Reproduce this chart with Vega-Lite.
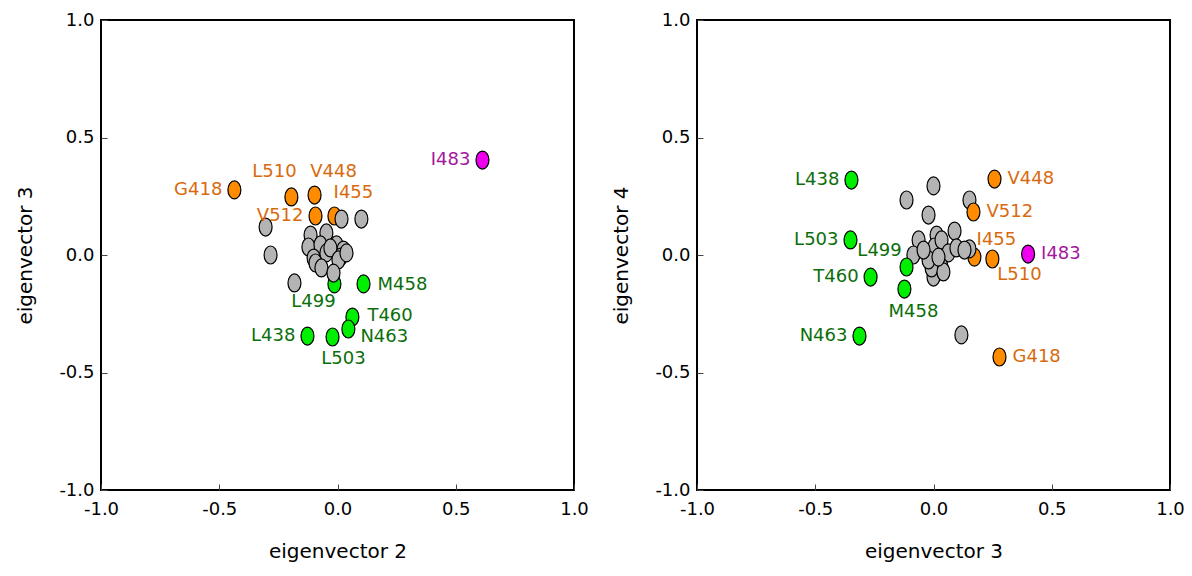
{
  "$schema": "https://vega.github.io/schema/vega-lite/v6.json",
  "background": "white",
  "padding": {"left": 14, "top": 10, "right": 5, "bottom": 5},
  "spacing": 20,
  "config": {
    "font": "DejaVu Sans",
    "view": {"stroke": "black", "strokeWidth": 2},
    "axis": {
      "domain": false, "grid": false, "tickSize": -6, "tickColor": "#444", "tickWidth": 1,
      "labelFontSize": 18, "labelColor": "black", "titleFontSize": 20, "titleFontWeight": "normal", "titleColor": "black",
      "labelFlush": false, "labelOverlap": false
    },
    "axisX": {"labelPadding": 16, "titlePadding": 23},
    "axisY": {"labelPadding": 13, "titlePadding": 23},
    "text": {"fontSize": 18}
  },
  "datasets": {
    "left": [
      {"res": "I483", "group": "magenta", "x": 0.613, "y": 0.404, "side": "left"},
      {"res": "G418", "group": "orange", "x": -0.436, "y": 0.277, "side": "left"},
      {"res": "L510", "group": "orange", "x": -0.195, "y": 0.247, "side": "above-left"},
      {"res": "V448", "group": "orange", "x": -0.097, "y": 0.255, "side": "above-right"},
      {"res": "V512", "group": "orange", "x": -0.093, "y": 0.166, "side": "left"},
      {"res": "I455", "group": "orange", "x": -0.013, "y": 0.166, "side": "above-right"},
      {"res": "M458", "group": "green", "x": 0.11, "y": -0.123, "side": "right"},
      {"res": "L499", "group": "green", "x": -0.013, "y": -0.123, "side": "below-left"},
      {"res": "T460", "group": "green", "x": 0.063, "y": -0.264, "side": "right-up"},
      {"res": "N463", "group": "green", "x": 0.046, "y": -0.315, "side": "right-down"},
      {"res": "L438", "group": "green", "x": -0.127, "y": -0.345, "side": "left"},
      {"res": "L503", "group": "green", "x": -0.021, "y": -0.349, "side": "below-right"},
      {"res": "", "group": "gray", "x": -0.304, "y": 0.119, "side": "none"},
      {"res": "", "group": "gray", "x": -0.283, "y": 0.0, "side": "none"},
      {"res": "", "group": "gray", "x": -0.182, "y": -0.119, "side": "none"},
      {"res": "", "group": "gray", "x": 0.017, "y": 0.153, "side": "none"},
      {"res": "", "group": "gray", "x": 0.101, "y": 0.153, "side": "none"},
      {"res": "", "group": "gray", "x": -0.114, "y": 0.085, "side": "none"},
      {"res": "", "group": "gray", "x": -0.123, "y": 0.034, "side": "none"},
      {"res": "", "group": "gray", "x": -0.047, "y": 0.094, "side": "none"},
      {"res": "", "group": "gray", "x": -0.072, "y": 0.043, "side": "none"},
      {"res": "", "group": "gray", "x": -0.004, "y": 0.043, "side": "none"},
      {"res": "", "group": "gray", "x": 0.025, "y": 0.021, "side": "none"},
      {"res": "", "group": "gray", "x": -0.101, "y": -0.013, "side": "none"},
      {"res": "", "group": "gray", "x": -0.047, "y": 0.009, "side": "none"},
      {"res": "", "group": "gray", "x": 0.013, "y": -0.009, "side": "none"},
      {"res": "", "group": "gray", "x": -0.03, "y": 0.03, "side": "none"},
      {"res": "", "group": "gray", "x": 0.004, "y": -0.021, "side": "none"},
      {"res": "", "group": "gray", "x": -0.093, "y": -0.034, "side": "none"},
      {"res": "", "group": "gray", "x": 0.038, "y": 0.009, "side": "none"},
      {"res": "", "group": "gray", "x": -0.068, "y": -0.055, "side": "none"},
      {"res": "", "group": "gray", "x": -0.017, "y": -0.077, "side": "none"}
    ],
    "right": [
      {"res": "I455", "group": "orange", "x": 0.173, "y": -0.009, "side": "above-right"},
      {"res": "", "group": "gray", "x": 0.118, "y": -0.34, "side": "none"},
      {"res": "", "group": "gray", "x": 0.152, "y": 0.234, "side": "none"},
      {"res": "", "group": "gray", "x": 0.152, "y": 0.026, "side": "none"},
      {"res": "", "group": "gray", "x": 0.0, "y": 0.294, "side": "none"},
      {"res": "", "group": "gray", "x": -0.114, "y": 0.234, "side": "none"},
      {"res": "", "group": "gray", "x": -0.021, "y": 0.17, "side": "none"},
      {"res": "", "group": "gray", "x": 0.089, "y": 0.102, "side": "none"},
      {"res": "", "group": "gray", "x": -0.063, "y": 0.064, "side": "none"},
      {"res": "", "group": "gray", "x": -0.085, "y": 0.0, "side": "none"},
      {"res": "", "group": "gray", "x": 0.013, "y": 0.085, "side": "none"},
      {"res": "", "group": "gray", "x": 0.004, "y": 0.034, "side": "none"},
      {"res": "", "group": "gray", "x": 0.034, "y": 0.064, "side": "none"},
      {"res": "", "group": "gray", "x": 0.063, "y": 0.009, "side": "none"},
      {"res": "", "group": "gray", "x": 0.097, "y": 0.03, "side": "none"},
      {"res": "", "group": "gray", "x": 0.131, "y": 0.021, "side": "none"},
      {"res": "", "group": "gray", "x": 0.0, "y": -0.094, "side": "none"},
      {"res": "", "group": "gray", "x": 0.034, "y": -0.051, "side": "none"},
      {"res": "", "group": "gray", "x": -0.008, "y": -0.055, "side": "none"},
      {"res": "", "group": "gray", "x": 0.042, "y": -0.072, "side": "none"},
      {"res": "", "group": "gray", "x": -0.021, "y": -0.021, "side": "none"},
      {"res": "", "group": "gray", "x": 0.021, "y": -0.009, "side": "none"},
      {"res": "", "group": "gray", "x": -0.042, "y": 0.021, "side": "none"},
      {"res": "I483", "group": "magenta", "x": 0.40, "y": 0.004, "side": "right"},
      {"res": "G418", "group": "orange", "x": 0.279, "y": -0.434, "side": "right"},
      {"res": "L510", "group": "orange", "x": 0.249, "y": -0.017, "side": "right-below"},
      {"res": "V448", "group": "orange", "x": 0.258, "y": 0.323, "side": "right"},
      {"res": "V512", "group": "orange", "x": 0.169, "y": 0.183, "side": "right"},
      {"res": "M458", "group": "green", "x": -0.123, "y": -0.145, "side": "below-right"},
      {"res": "L499", "group": "green", "x": -0.114, "y": -0.051, "side": "left-above"},
      {"res": "T460", "group": "green", "x": -0.266, "y": -0.094, "side": "left"},
      {"res": "N463", "group": "green", "x": -0.313, "y": -0.345, "side": "left"},
      {"res": "L438", "group": "green", "x": -0.347, "y": 0.319, "side": "left"},
      {"res": "L503", "group": "green", "x": -0.351, "y": 0.064, "side": "left"}
    ]
  },
  "hconcat": [
    {
      "width": 473, "height": 470,
      "data": {"name": "left"},
      "encoding": {
        "x": {"field": "x", "type": "quantitative", "title": "eigenvector 2", "scale": {"domain": [-1, 1], "nice": false, "zero": false},
              "axis": {"values": [-1, -0.5, 0, 0.5, 1], "labelExpr": "datum.value < 0 ? '-' + format(-datum.value, '.1f') : format(datum.value, '.1f')"}},
        "y": {"field": "y", "type": "quantitative", "title": "eigenvector 3", "scale": {"domain": [-1, 1], "nice": false, "zero": false},
              "axis": {"values": [-1, -0.5, 0, 0.5, 1], "labelExpr": "datum.value < 0 ? '-' + format(-datum.value, '.1f') : format(datum.value, '.1f')"}}
      },
      "layer": [
        {
          "mark": {"type": "point", "filled": true, "shape": "M0,-1C0.3977,-1,0.72,-0.5523,0.72,0C0.72,0.5523,0.3977,1,0,1C-0.3977,1,-0.72,0.5523,-0.72,0C-0.72,-0.5523,-0.3977,-1,0,-1Z", "size": 324, "stroke": "black", "strokeWidth": 1.2, "opacity": 1},
          "encoding": {"fill": {"field": "group", "type": "nominal", "legend": null, "scale": {"domain": ["gray", "orange", "green", "magenta"], "range": ["#b4b4b4", "#ff8c00", "#00ee00", "#ee00ee"]}}}
        },
        {"transform": [{"filter": "datum.side == 'left'"}], "mark": {"type": "text", "align": "right", "baseline": "middle", "dx": -12}, "encoding": {"text": {"field": "res"}, "color": {"field": "group", "type": "nominal", "legend": null, "scale": {"domain": ["gray", "orange", "green", "magenta"], "range": ["#888888", "#d86a0e", "#0b6e0b", "#a4189e"]}}}},
        {"transform": [{"filter": "datum.side == 'right'"}], "mark": {"type": "text", "align": "left", "baseline": "middle", "dx": 14, "dy": 1}, "encoding": {"text": {"field": "res"}, "color": {"field": "group", "type": "nominal", "legend": null}}},
        {"transform": [{"filter": "datum.side == 'right-up'"}], "mark": {"type": "text", "align": "left", "baseline": "middle", "dx": 15, "dy": -1}, "encoding": {"text": {"field": "res"}, "color": {"field": "group", "type": "nominal", "legend": null}}},
        {"transform": [{"filter": "datum.side == 'right-down'"}], "mark": {"type": "text", "align": "left", "baseline": "middle", "dx": 12, "dy": 8}, "encoding": {"text": {"field": "res"}, "color": {"field": "group", "type": "nominal", "legend": null}}},
        {"transform": [{"filter": "datum.side == 'above-left'"}], "mark": {"type": "text", "align": "center", "baseline": "middle", "dx": -17, "dy": -25}, "encoding": {"text": {"field": "res"}, "color": {"field": "group", "type": "nominal", "legend": null}}},
        {"transform": [{"filter": "datum.side == 'above-right'"}], "mark": {"type": "text", "align": "center", "baseline": "middle", "dx": 19, "dy": -23}, "encoding": {"text": {"field": "res"}, "color": {"field": "group", "type": "nominal", "legend": null}}},
        {"transform": [{"filter": "datum.side == 'below-left'"}], "mark": {"type": "text", "align": "center", "baseline": "middle", "dx": -21, "dy": 18}, "encoding": {"text": {"field": "res"}, "color": {"field": "group", "type": "nominal", "legend": null}}},
        {"transform": [{"filter": "datum.side == 'below-right'"}], "mark": {"type": "text", "align": "center", "baseline": "middle", "dx": 11, "dy": 22}, "encoding": {"text": {"field": "res"}, "color": {"field": "group", "type": "nominal", "legend": null}}}
      ]
    },
    {
      "width": 473, "height": 470,
      "data": {"name": "right"},
      "encoding": {
        "x": {"field": "x", "type": "quantitative", "title": "eigenvector 3", "scale": {"domain": [-1, 1], "nice": false, "zero": false},
              "axis": {"values": [-1, -0.5, 0, 0.5, 1], "labelExpr": "datum.value < 0 ? '-' + format(-datum.value, '.1f') : format(datum.value, '.1f')"}},
        "y": {"field": "y", "type": "quantitative", "title": "eigenvector 4", "scale": {"domain": [-1, 1], "nice": false, "zero": false},
              "axis": {"values": [-1, -0.5, 0, 0.5, 1], "labelExpr": "datum.value < 0 ? '-' + format(-datum.value, '.1f') : format(datum.value, '.1f')"}}
      },
      "layer": [
        {
          "mark": {"type": "point", "filled": true, "shape": "M0,-1C0.3977,-1,0.72,-0.5523,0.72,0C0.72,0.5523,0.3977,1,0,1C-0.3977,1,-0.72,0.5523,-0.72,0C-0.72,-0.5523,-0.3977,-1,0,-1Z", "size": 324, "stroke": "black", "strokeWidth": 1.2, "opacity": 1},
          "encoding": {"fill": {"field": "group", "type": "nominal", "legend": null, "scale": {"domain": ["gray", "orange", "green", "magenta"], "range": ["#b4b4b4", "#ff8c00", "#00ee00", "#ee00ee"]}}}
        },
        {"transform": [{"filter": "datum.side == 'left'"}], "mark": {"type": "text", "align": "right", "baseline": "middle", "dx": -12}, "encoding": {"text": {"field": "res"}, "color": {"field": "group", "type": "nominal", "legend": null, "scale": {"domain": ["gray", "orange", "green", "magenta"], "range": ["#888888", "#d86a0e", "#0b6e0b", "#a4189e"]}}}},
        {"transform": [{"filter": "datum.side == 'right'"}], "mark": {"type": "text", "align": "left", "baseline": "middle", "dx": 13}, "encoding": {"text": {"field": "res"}, "color": {"field": "group", "type": "nominal", "legend": null}}},
        {"transform": [{"filter": "datum.side == 'above-right'"}], "mark": {"type": "text", "align": "center", "baseline": "middle", "dx": 22, "dy": -17}, "encoding": {"text": {"field": "res"}, "color": {"field": "group", "type": "nominal", "legend": null}}},
        {"transform": [{"filter": "datum.side == 'below-right'"}], "mark": {"type": "text", "align": "center", "baseline": "middle", "dx": 9, "dy": 23}, "encoding": {"text": {"field": "res"}, "color": {"field": "group", "type": "nominal", "legend": null}}},
        {"transform": [{"filter": "datum.side == 'left-above'"}], "mark": {"type": "text", "align": "center", "baseline": "middle", "dx": -27, "dy": -16}, "encoding": {"text": {"field": "res"}, "color": {"field": "group", "type": "nominal", "legend": null}}},
        {"transform": [{"filter": "datum.side == 'right-below'"}], "mark": {"type": "text", "align": "center", "baseline": "middle", "dx": 27, "dy": 16}, "encoding": {"text": {"field": "res"}, "color": {"field": "group", "type": "nominal", "legend": null}}}
      ]
    }
  ]
}
